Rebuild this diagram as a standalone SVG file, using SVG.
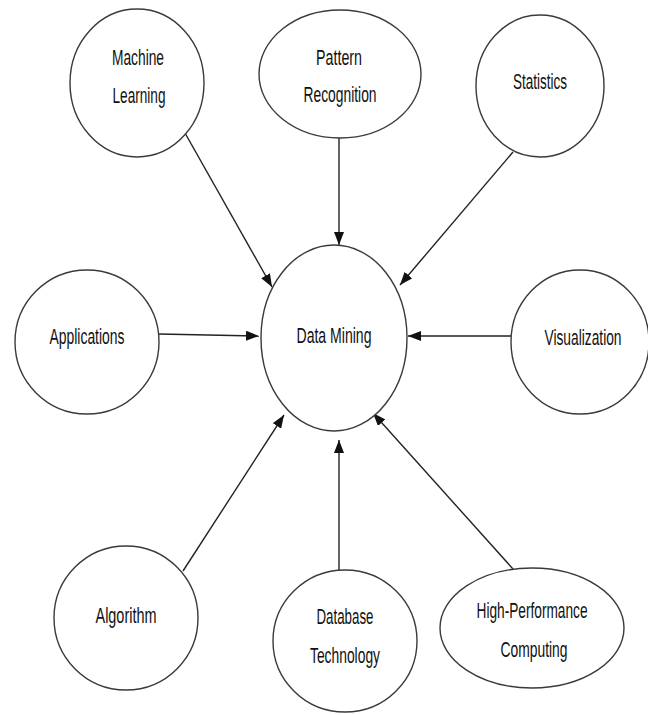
<svg xmlns="http://www.w3.org/2000/svg" width="648" height="715" viewBox="0 0 648 715">
  <style>
    .node ellipse { fill: #ffffff; stroke: #3a3a3a; stroke-width: 1.4; }
    .node text { font-family: "Liberation Sans", Arial, sans-serif; font-size: 22px; fill: #111111; text-anchor: middle; }
    .edge { stroke: #222222; stroke-width: 1.4; fill: none; marker-end: url(#arrow); }
  </style>
  <defs>
    <marker id="arrow" markerUnits="userSpaceOnUse" markerWidth="14" markerHeight="10" refX="13" refY="5" orient="auto">
      <path d="M0,0 L13,5 L0,10 z" fill="#111111"/>
    </marker>
  </defs>
  <rect width="648" height="715" fill="#ffffff"/>

  <!-- connectors: every topic points at the central node -->
  <g id="connectors">
    <line class="edge" x1="185" y1="133" x2="272" y2="287"/>
    <line class="edge" x1="339" y1="138" x2="339" y2="245"/>
    <line class="edge" x1="513" y1="152" x2="400" y2="285"/>
    <line class="edge" x1="159" y1="334" x2="259" y2="336"/>
    <line class="edge" x1="511" y1="336" x2="408" y2="336"/>
    <line class="edge" x1="183" y1="571" x2="284" y2="415"/>
    <line class="edge" x1="339" y1="570" x2="339" y2="440"/>
    <line class="edge" x1="513" y1="569" x2="373" y2="413"/>
  </g>

  <g id="data-mining" class="node">
    <ellipse cx="334" cy="338" rx="73" ry="93"/>
    <text x="334" y="343" textLength="75" lengthAdjust="spacingAndGlyphs">Data Mining</text>
  </g>

  <g id="machine-learning" class="node">
    <ellipse cx="137" cy="83" rx="67" ry="74"/>
    <text x="138" y="65" textLength="52" lengthAdjust="spacingAndGlyphs">Machine</text>
    <text x="139" y="103" textLength="53" lengthAdjust="spacingAndGlyphs">Learning</text>
  </g>

  <g id="pattern-recognition" class="node">
    <ellipse cx="340" cy="74" rx="81" ry="64"/>
    <text x="339" y="65" textLength="46" lengthAdjust="spacingAndGlyphs">Pattern</text>
    <text x="340" y="102" textLength="73" lengthAdjust="spacingAndGlyphs">Recognition</text>
  </g>

  <g id="statistics" class="node">
    <ellipse cx="540" cy="86" rx="64" ry="71"/>
    <text x="540" y="89" textLength="54" lengthAdjust="spacingAndGlyphs">Statistics</text>
  </g>

  <g id="applications" class="node">
    <ellipse cx="87" cy="342" rx="72" ry="72"/>
    <text x="87" y="344" textLength="75" lengthAdjust="spacingAndGlyphs">Applications</text>
  </g>

  <g id="visualization" class="node">
    <ellipse cx="580" cy="342" rx="69" ry="72"/>
    <text x="583" y="345" textLength="77" lengthAdjust="spacingAndGlyphs">Visualization</text>
  </g>

  <g id="algorithm" class="node">
    <ellipse cx="126" cy="618" rx="72" ry="72"/>
    <text x="126" y="623" textLength="61" lengthAdjust="spacingAndGlyphs">Algorithm</text>
  </g>

  <g id="database-technology" class="node">
    <ellipse cx="345" cy="641" rx="72" ry="71"/>
    <text x="345" y="624" textLength="57" lengthAdjust="spacingAndGlyphs">Database</text>
    <text x="345" y="663" textLength="70" lengthAdjust="spacingAndGlyphs">Technology</text>
  </g>

  <g id="high-performance-computing" class="node">
    <ellipse cx="532" cy="628" rx="92" ry="60"/>
    <text x="532" y="618" textLength="111" lengthAdjust="spacingAndGlyphs">High-Performance</text>
    <text x="534" y="657" textLength="67" lengthAdjust="spacingAndGlyphs">Computing</text>
  </g>
</svg>
